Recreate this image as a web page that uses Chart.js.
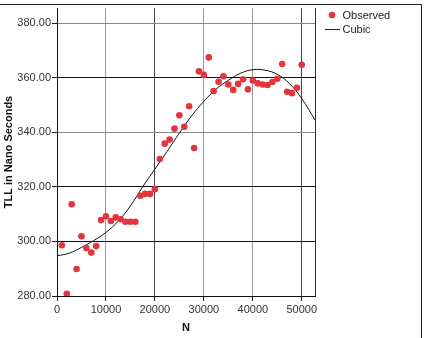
<!DOCTYPE html>
<html>
<head>
<meta charset="utf-8">
<script src="https://cdn.jsdelivr.net/npm/chart.js"></script>
<style>
  html, body { margin: 0; padding: 0; background: #fff; }
  #wrap { width: 427px; height: 338px; position: relative; }
</style>
</head>
<body>
<div id="wrap"><canvas id="tllChart" width="427" height="338"></canvas></div>
<script>
// observed measurements
const nValues = [1000, 2000, 3000, 4000, 5000, 6000, 7000, 8000, 9000, 10000,
  11000, 12000, 13000, 14000, 15000, 16000, 17000, 18000, 19000, 20000,
  21000, 22000, 23000, 24000, 25000, 26000, 27000, 28000, 29000, 30000,
  31000, 32000, 33000, 34000, 35000, 36000, 37000, 38000, 39000, 40000,
  41000, 42000, 43000, 44000, 45000, 46000, 47000, 48000, 49000, 50000];
const tllObserved = [298.6, 280.8, 313.6, 289.9, 301.9, 297.6, 295.9, 298.3, 307.8, 309.2,
  307.5, 308.8, 308.1, 307.2, 307.2, 307.2, 316.7, 317.4, 317.4, 319.1,
  330.2, 335.8, 337.3, 341.3, 346.2, 342.0, 349.5, 334.2, 362.3, 361.0,
  367.4, 355.1, 358.5, 360.5, 357.5, 355.5, 357.7, 359.4, 355.7, 358.9,
  357.9, 357.5, 357.3, 358.4, 359.6, 365.0, 354.8, 354.3, 356.3, 364.7];

// cubic fit line
const fitN = [0, 2500, 5000, 7500, 10000, 12500, 15000, 17500, 20000, 22500, 25000,
  27500, 30000, 32500, 35000, 37500, 40000, 42500, 45000, 47500, 50000, 52700];
const fitTLL = [294.7, 295.7, 297.8, 300.3, 303.3, 307.4, 313.0, 320.0, 326.5, 333.0, 339.7,
  346.0, 351.3, 355.8, 359.0, 361.6, 362.9, 362.7, 361.2, 357.8, 352.3, 344.5];

const xTicks = [0, 10000, 20000, 30000, 40000, 50000];
const yTicks = [280, 300, 320, 340, 360, 380];
const seriesNames = ['Observed', 'Cubic'];

const FONT = "'Liberation Sans', Arial, sans-serif";
const RED = 'rgb(228,52,62)';

const darkX = [0, 20000, 50000];
const darkY = [280, 300, 320, 360];

const framePlugin = {
  id: 'frame',
  afterDraw(chart) {
    const c = chart.ctx;
    const a = chart.chartArea;
    c.save();
    c.strokeStyle = '#222';
    c.lineWidth = 1;
    c.beginPath();
    c.moveTo(0, 4.5); c.lineTo(421.5, 4.5); c.lineTo(421.5, 338);
    c.stroke();
    c.strokeStyle = '#333';
    c.beginPath();
    c.moveTo(Math.round(a.right) + 0.5, a.top);
    c.lineTo(Math.round(a.right) + 0.5, a.bottom);
    c.stroke();
    // legend
    c.font = '11px ' + FONT;
    c.fillStyle = '#222';
    c.textBaseline = 'middle';
    c.fillText(chart.data.datasets[0].label, 342.5, 16);
    c.fillText(chart.data.datasets[1].label, 342.5, 30);
    c.fillStyle = RED;
    c.beginPath(); c.arc(332, 15, 3.3, 0, Math.PI * 2); c.fill();
    c.strokeStyle = '#222';
    c.beginPath(); c.moveTo(325, 29.5); c.lineTo(340, 29.5); c.stroke();
    c.restore();
  }
};

new Chart(document.getElementById('tllChart').getContext('2d'), {
  type: 'scatter',
  data: {
    datasets: [{
      label: seriesNames[0],
      data: nValues.map((n, i) => ({ x: n, y: tllObserved[i] })),
      backgroundColor: RED,
      borderWidth: 0,
      pointRadius: 3.3,
      pointHoverRadius: 3.3
    }, {
      type: 'line',
      label: seriesNames[1],
      data: fitN.map((n, i) => ({ x: n, y: fitTLL[i] })),
      borderColor: '#111',
      borderWidth: 1,
      pointRadius: 0,
      fill: false,
      tension: 0.4
    }]
  },
  options: {
    responsive: false,
    animation: false,
    events: [],
    layout: { padding: { top: 8, right: 112, left: 0, bottom: 0 } },
    plugins: { legend: { display: false }, tooltip: { enabled: false } },
    scales: {
      x: {
        type: 'linear',
        min: 0, max: 52700,
        afterFit(s) { s.height = 42; },
        afterBuildTicks(s) { s.ticks = xTicks.map(v => ({ value: v })); },
        ticks: {
          padding: 2,
          color: '#333',
          font: { family: FONT, size: 11 },
          callback: v => String(v)
        },
        grid: {
          color: ctx => darkX.includes(ctx.tick && ctx.tick.value) ? '#444' : '#999',
          tickColor: '#222',
          tickLength: 5,
          lineWidth: 1
        },
        border: { display: true, color: '#111' },
        title: {
          display: true, text: 'N', color: '#111',
          font: { family: FONT, size: 11, weight: 'bold' },
          padding: { top: 0, bottom: 3 }
        }
      },
      y: {
        type: 'linear',
        min: 280, max: 385.5,
        afterFit(s) { s.width = 57; },
        afterBuildTicks(s) { s.ticks = yTicks.map(v => ({ value: v })); },
        ticks: {
          padding: 1,
          color: '#333',
          font: { family: FONT, size: 11 },
          callback: v => v.toFixed(2)
        },
        grid: {
          color: ctx => darkY.includes(ctx.tick && ctx.tick.value) ? '#111' : '#888',
          tickColor: '#222',
          tickLength: 5,
          lineWidth: 1
        },
        border: { display: true, color: '#111' },
        title: {
          display: true, text: 'TLL in Nano Seconds', color: '#111',
          font: { family: FONT, size: 11, weight: 'bold' },
          padding: { top: 2.5, bottom: 0 }
        }
      }
    }
  },
  plugins: [framePlugin]
});
</script>
</body>
</html>
